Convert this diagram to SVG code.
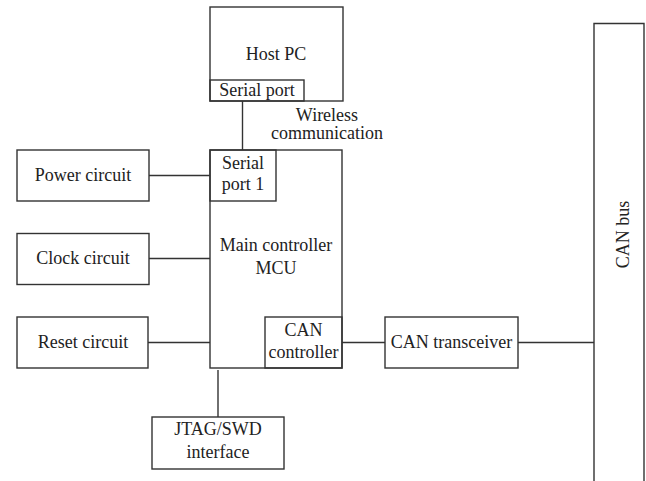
<svg xmlns="http://www.w3.org/2000/svg" width="646" height="481" viewBox="0 0 646 481">
<style>
rect{fill:none;stroke:#333;stroke-width:1.4}
line{stroke:#333;stroke-width:1.4}
text{font-family:"Liberation Serif","Times New Roman",serif;font-size:18px;fill:#222;text-anchor:middle}
</style>
<rect x="0" y="0" width="646" height="481" style="fill:#fff;stroke:none"/>
<g id="connectors">
<line x1="242.5" y1="101" x2="242.5" y2="150"/>
<line x1="149" y1="175.5" x2="210" y2="175.5"/>
<line x1="149" y1="258.5" x2="210" y2="258.5"/>
<line x1="148" y1="342.5" x2="210" y2="342.5"/>
<line x1="342" y1="342.5" x2="385" y2="342.5"/>
<line x1="518" y1="342.5" x2="594" y2="342.5"/>
<line x1="218" y1="370" x2="218" y2="417"/>
</g>
<g id="host-pc">
<rect x="210" y="7" width="133" height="94"/>
<text x="276" y="60">Host PC</text>
</g>
<g id="serial-port">
<rect x="210" y="80" width="94" height="21"/>
<text x="257" y="96">Serial port</text>
</g>
<g id="wireless-label">
<text x="327" y="120.5">Wireless</text>
<text x="327" y="139">communication</text>
</g>
<g id="mcu">
<rect x="210" y="150" width="132" height="218"/>
<text x="276" y="251">Main controller</text>
<text x="276" y="274">MCU</text>
</g>
<g id="serial-port-1">
<rect x="210" y="150" width="66" height="51"/>
<text x="243" y="169">Serial</text>
<text x="243" y="190">port 1</text>
</g>
<g id="can-controller">
<rect x="265" y="317" width="77" height="51"/>
<text x="303.5" y="336">CAN</text>
<text x="303.5" y="358">controller</text>
</g>
<g id="power-circuit">
<rect x="17" y="150" width="132" height="51"/>
<text x="83" y="181">Power circuit</text>
</g>
<g id="clock-circuit">
<rect x="17" y="233.5" width="132" height="51"/>
<text x="83" y="264">Clock circuit</text>
</g>
<g id="reset-circuit">
<rect x="17" y="317" width="131" height="51"/>
<text x="83" y="348">Reset circuit</text>
</g>
<g id="jtag">
<rect x="152" y="417" width="132" height="52"/>
<text x="218" y="435">JTAG/SWD</text>
<text x="218" y="457.5">interface</text>
</g>
<g id="can-transceiver">
<rect x="385" y="317" width="133" height="51"/>
<text x="451.5" y="348">CAN transceiver</text>
</g>
<g id="can-bus">
<path d="M594,482 V23.5 H644 V482" style="fill:none;stroke:#333;stroke-width:1.4"/>
<text transform="translate(629,234.5) rotate(-90)">CAN bus</text>
</g>
</svg>
